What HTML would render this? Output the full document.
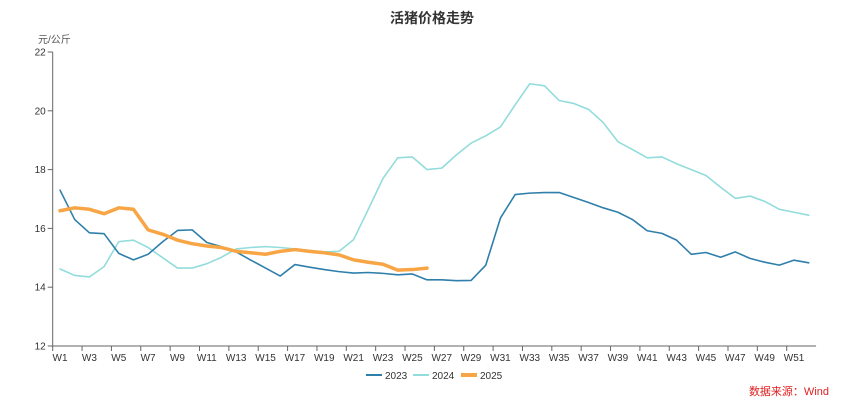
<!DOCTYPE html>
<html><head><meta charset="utf-8"><style>
html,body{margin:0;padding:0;background:#fff;width:865px;height:406px;overflow:hidden}
svg{font-family:"Liberation Sans","Noto Sans CJK SC",sans-serif}
</style></head><body>
<svg id="chart" width="865" height="406">
<text x="432" y="23" text-anchor="middle" font-size="14" font-weight="bold" fill="#333">活猪价格走势</text>
<text x="38" y="43" font-size="10" fill="#555">元/公斤</text>
<g id="axes"></g>
<g id="series"></g>
<g>
<g><line x1="366" y1="375" x2="382" y2="375" stroke="#2f7fab" stroke-width="2"/><text x="385" y="379" font-size="10" fill="#333">2023</text></g>
<g><line x1="413" y1="375" x2="429" y2="375" stroke="#93dcdc" stroke-width="2"/><text x="432" y="379" font-size="10" fill="#333">2024</text></g>
<g><line x1="461" y1="375" x2="477" y2="375" stroke="#f7a545" stroke-width="4"/><text x="480" y="379" font-size="10" fill="#333">2025</text></g>
</g>
<text x="829" y="395" text-anchor="end" font-size="11" fill="#e02020">数据来源：Wind</text>
</svg>
<script>
const weeks = Array.from({length:52},(_,i)=>'W'+(i+1));
const yTicks = [12,14,16,18,20,22];
const s2023 = [17.3,16.3,15.85,15.82,15.15,14.93,15.12,15.55,15.93,15.95,15.52,15.38,15.2,14.92,14.65,14.38,14.77,14.68,14.6,14.53,14.48,14.5,14.47,14.42,14.45,14.25,14.25,14.22,14.23,14.75,16.35,17.15,17.2,17.22,17.22,17.05,16.88,16.7,16.55,16.3,15.92,15.83,15.6,15.12,15.18,15.02,15.2,14.98,14.85,14.75,14.92,14.83];
const s2024 = [14.62,14.4,14.35,14.7,15.55,15.6,15.35,15.0,14.65,14.65,14.8,15.02,15.3,15.35,15.38,15.35,15.3,15.25,15.2,15.22,15.62,16.65,17.7,18.4,18.43,18.0,18.05,18.5,18.9,19.15,19.45,20.2,20.92,20.85,20.35,20.25,20.05,19.6,18.95,18.68,18.4,18.43,18.2,18.0,17.8,17.4,17.02,17.1,16.92,16.65,16.55,16.45];
const s2025 = [16.6,16.7,16.65,16.5,16.7,16.65,15.95,15.8,15.6,15.48,15.4,15.35,15.22,15.17,15.12,15.22,15.28,15.22,15.17,15.1,14.93,14.85,14.78,14.58,14.6,14.65];
const NS='http://www.w3.org/2000/svg';
const x0=52.7, bw=14.68, yTop=52, yBot=346, vMin=12, vMax=22;
const xs=i=>x0+bw*(i+0.5);
const ys=v=>yBot-(v-vMin)/(vMax-vMin)*(yBot-yTop);
function mk(tag,attrs,parent){const e=document.createElementNS(NS,tag);for(const k in attrs)e.setAttribute(k,attrs[k]);parent.appendChild(e);return e;}
const ax=document.getElementById('axes');
const yl=mk('line',{x1:x0,y1:yTop,x2:x0,y2:yBot,stroke:'#666','stroke-width':1},ax);


yTicks.forEach(t=>{
  const tk=mk('line',{x1:x0-5,y1:ys(t),x2:x0,y2:ys(t),stroke:'#666'},ax);
  
  
  const tx=mk('text',{x:x0-7,y:ys(t)+3.5,'text-anchor':'end','font-size':10,fill:'#333'},ax);
  tx.textContent=t;
  
  
});
const xl=mk('line',{x1:x0,y1:yBot,x2:x0+bw*weeks.length,y2:yBot,stroke:'#666'},ax);


weeks.forEach((w,i)=>{
  if(i%2===0){
    const tk=mk('line',{x1:x0+bw*i,y1:yBot,x2:x0+bw*i,y2:yBot+5,stroke:'#666'},ax);
    
    
    const tx=mk('text',{x:xs(i),y:yBot+15,'text-anchor':'middle','font-size':10,fill:'#333'},ax);
    tx.textContent=w;
    
    
  }
});
const sg=document.getElementById('series');
function line(data,color,w,name){
  const p=mk('polyline',{points:data.map((v,i)=>xs(i)+','+ys(v)).join(' '),fill:'none',stroke:color,'stroke-width':w,'stroke-linejoin':'round','stroke-linecap':'round'},sg);
  
  
}
line(s2024,'#93dcdc',1.6,'series-2024-line');
line(s2023,'#2f7fab',1.6,'series-2023-line');
line(s2025,'#f7a545',3.5,'series-2025-line');
</script>
</body></html>
